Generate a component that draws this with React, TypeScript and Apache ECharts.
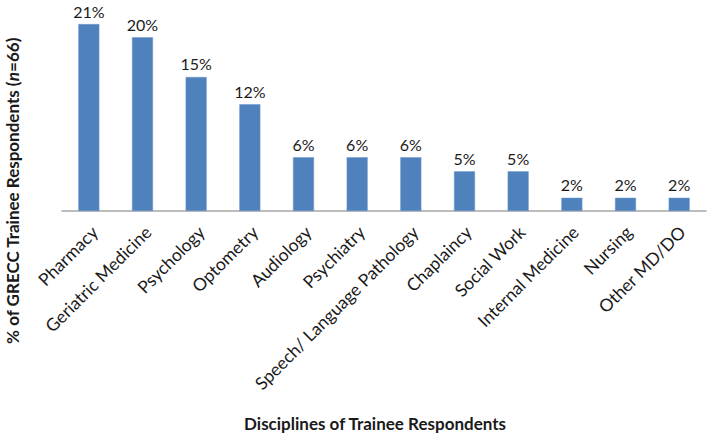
import React, { useEffect, useRef } from "react";
import * as echarts from "echarts";

const categories = [
  "Pharmacy",
  "Geriatric Medicine",
  "Psychology",
  "Optometry",
  "Audiology",
  "Psychiatry",
  "Speech/ Language Pathology",
  "Chaplaincy",
  "Social Work",
  "Internal Medicine",
  "Nursing",
  "Other MD/DO",
];
const percentValues = [21.2, 19.7, 15.2, 12.1, 6.1, 6.1, 6.1, 4.5, 4.5, 1.5, 1.5, 1.5];
const yAxisTitle = "% of GRECC Trainee Respondents (";
const xAxisTitle = "Disciplines of Trainee Respondents";

const FONT = "Lato, 'Open Sans', sans-serif";

export default function App() {
  const ref = useRef<HTMLDivElement>(null);
  useEffect(() => {
    if (!ref.current) return;
    const chart = echarts.init(ref.current, undefined, { renderer: "svg" });
    chart.setOption({
      animation: false,
      grid: [
        { left: 62, top: 17, width: 644, height: 194 },
        { left: 68, top: 17, width: 644, height: 194 },
      ],
      xAxis: [
        {
          type: "category",
          gridIndex: 0,
          data: categories,
          axisLine: { lineStyle: { color: "#a6a6a6", width: 1.5 } },
          axisTick: { show: false },
          axisLabel: { show: false },
        },
        {
          type: "category",
          gridIndex: 1,
          data: categories,
          axisLine: { show: false },
          axisTick: { show: false },
          axisLabel: {
            rotate: 45,
            interval: 0,
            margin: 18,
            fontSize: 17.5,
            color: "#1a1a1a",
            fontFamily: FONT,
          },
        },
      ],
      yAxis: [
        { type: "value", gridIndex: 0, min: 0, max: 22, show: false },
        { type: "value", gridIndex: 1, min: 0, max: 22, show: false },
      ],
      series: [
        {
          type: "bar",
          xAxisIndex: 0,
          yAxisIndex: 0,
          data: percentValues,
          barWidth: 21,
          itemStyle: { color: "#4f81bd", borderColor: "#6a96cc", borderWidth: 0.5 },
          label: {
            show: true,
            position: "top",
            distance: 5,
            fontSize: 16,
            color: "#1a1a1a",
            fontFamily: FONT,
            formatter: (p: any) => Math.round(p.value) + "%",
          },
        },
      ],
      graphic: [
        {
          type: "text",
          x: 12,
          y: 191,
          rotation: Math.PI / 2,
          style: {
            text: "{b|" + yAxisTitle + "}{i|n}{b|=66)}",
            align: "center",
            verticalAlign: "middle",
            rich: {
              b: { fontSize: 17, fontWeight: "bold", fontFamily: FONT, fill: "#1a1a1a" },
              i: { fontSize: 17, fontWeight: "bold", fontStyle: "italic", fontFamily: FONT, fill: "#1a1a1a" },
            },
          },
        },
        {
          type: "text",
          x: 375,
          y: 423,
          style: {
            text: xAxisTitle,
            align: "center",
            verticalAlign: "middle",
            fontSize: 17,
            fontWeight: "bold",
            fontFamily: FONT,
            fill: "#1a1a1a",
          },
        },
      ],
    });
    return () => chart.dispose();
  }, []);
  return <div ref={ref} style={{ width: 709, height: 434, position: "absolute", left: 0, top: 0 }} />;
}
